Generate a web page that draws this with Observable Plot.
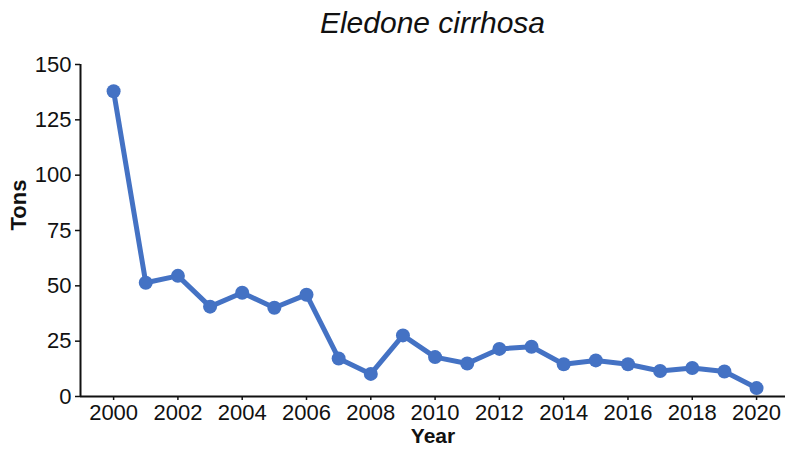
<!DOCTYPE html>
<html>
<head>
<meta charset="utf-8">
<script src="https://cdn.jsdelivr.net/npm/d3@7"></script>
<script src="https://cdn.jsdelivr.net/npm/@observablehq/plot@0.6"></script>
<style>
  html, body { margin: 0; padding: 0; background: #fff; }
  #wrap { width: 786px; height: 450px; position: relative; font-family: "Liberation Sans", Arial, sans-serif; }
  #title { position: absolute; left: 80px; width: 705px; top: 4px; text-align: center; font-size: 30px; font-style: italic; color: #111; line-height: 38px; }
  #chart { position: absolute; left: 0; top: 50px; }
</style>
</head>
<body>
<div id="wrap">
  <div id="title">Eledone cirrhosa</div>
  <div id="chart"></div>
</div>
<script>
const years = [2000, 2001, 2002, 2003, 2004, 2005, 2006, 2007, 2008, 2009, 2010,
               2011, 2012, 2013, 2014, 2015, 2016, 2017, 2018, 2019, 2020];
const tons = [137.9, 51.4, 54.5, 40.6, 46.9, 40.1, 46.0, 17.2, 10.2, 27.6, 17.8,
              14.9, 21.5, 22.5, 14.6, 16.3, 14.6, 11.5, 12.9, 11.3, 3.8];
const xTicks = [2000, 2002, 2004, 2006, 2008, 2010, 2012, 2014, 2016, 2018, 2020];
const yTicks = [0, 25, 50, 75, 100, 125, 150];
const xLabel = "Year";
const yLabel = "Tons";

const data = years.map((y, i) => ({year: y, tons: tons[i]}));
const xMin = 1998.97, xMax = 2020.9;
const blue = "#4472C4";

const chart = Plot.plot({
  width: 786,
  height: 400,
  marginTop: 14,
  marginBottom: 54,
  marginLeft: 80,
  marginRight: 1,
  style: {fontFamily: "'Liberation Sans', Arial, sans-serif", fontSize: "22px", color: "#111", background: "white", overflow: "visible"},
  x: {domain: [xMin, xMax], label: null},
  y: {domain: [0, 150], label: null},
  marks: [
    Plot.axisX({ticks: xTicks, tickFormat: d => String(d), tickSize: 4, tickPadding: 4, label: null, fontSize: 22, stroke: "#111", strokeWidth: 1.5}),
    Plot.axisY({ticks: yTicks, tickSize: 5, tickPadding: 4, label: null, fontSize: 22, stroke: "#111", strokeWidth: 1.5}),
    Plot.ruleY([0], {stroke: "#111", strokeWidth: 2}),
    Plot.ruleX([xMin], {stroke: "#111", strokeWidth: 2}),
    Plot.lineY(data, {x: "year", y: "tons", stroke: blue, strokeWidth: 5, strokeLinejoin: "round"}),
    Plot.dot(data, {x: "year", y: "tons", r: 7, fill: blue, stroke: "none"}),
    Plot.text([yLabel], {frameAnchor: "left", dx: -62, rotate: -90, fontSize: 22, fontWeight: "bold", fill: "#111"}),
    Plot.text([xLabel], {frameAnchor: "bottom", dy: 46, fontSize: 21, fontWeight: "bold", fill: "#111"})
  ]
});
document.getElementById("chart").appendChild(chart);
</script>
</body>
</html>
